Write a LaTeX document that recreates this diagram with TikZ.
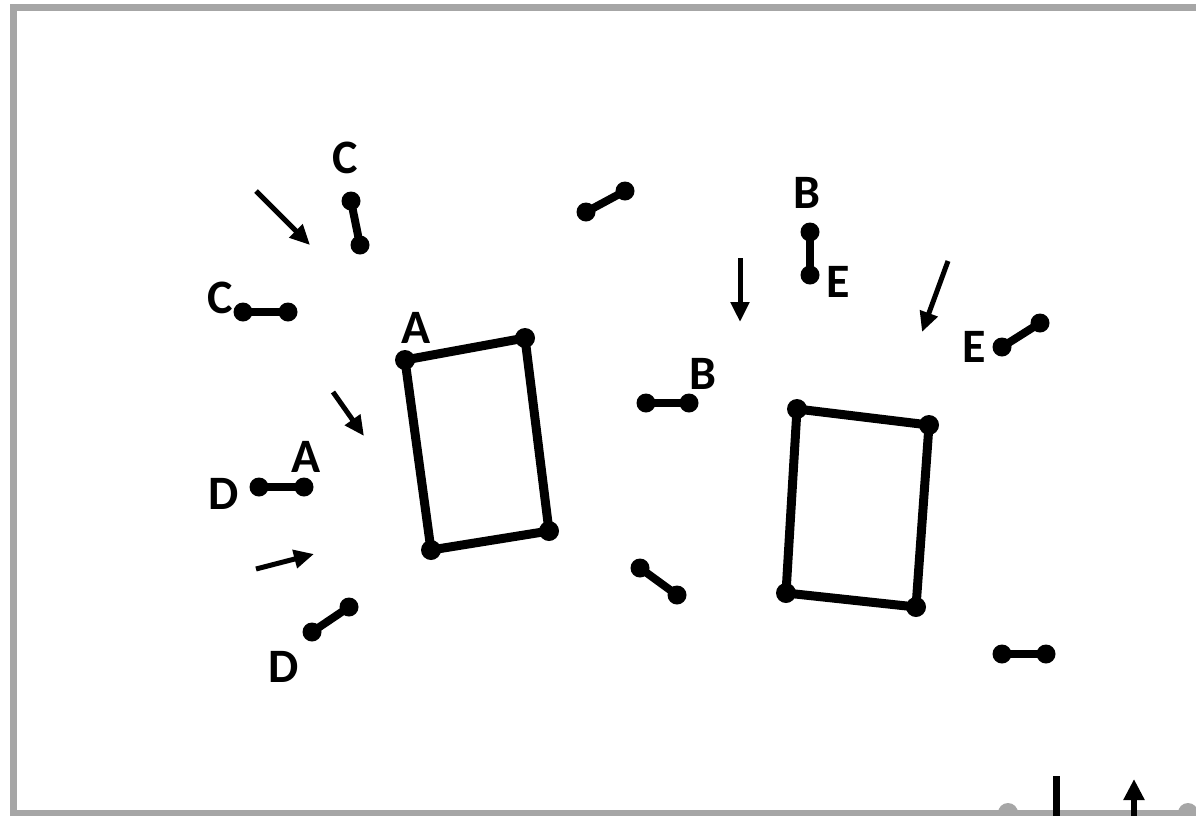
\documentclass[tikz,border=0pt]{standalone}
\usepackage{fontspec}
\setmainfont{Carlito}
\usetikzlibrary{arrows.meta}
\definecolor{framegray}{RGB}{166,166,166}
\tikzset{
  dot/.style={circle,fill=black,inner sep=0pt,minimum size=19pt},
  cdot/.style={circle,fill=black,inner sep=0pt,minimum size=20pt},
  bar/.style={line width=8pt},
  rectside/.style={line width=9pt,line join=round},
  pointer/.style={line width=5pt,-{Triangle[length=20pt,width=18pt]}},
  lbl/.style={font=\bfseries\fontsize{48}{48}\selectfont,inner sep=0pt},
  graydot/.style={circle,fill=framegray,inner sep=0pt,minimum size=20pt}
}
\begin{document}
\begin{tikzpicture}[x=1pt,y=-1pt]
\useasboundingbox (0,0) rectangle (1196,815);
\clip (0,0) rectangle (1196,815);
\fill[white] (0,0) rectangle (1196,815);

% gray dots at bottom
\node[graydot] (g1) at (1008,813) {};
\node[graydot] (g2) at (1188,813) {};
% frame
\draw[framegray,line width=7pt] (13.5,7.5) rectangle (1199.5,813.5);

% rectangle A
\node[cdot] (ra1) at (405,360) {};
\node[cdot] (ra2) at (525,338) {};
\node[cdot] (ra3) at (549,531) {};
\node[cdot] (ra4) at (431,550) {};
\draw[rectside] (ra1.center) -- (ra2.center) -- (ra3.center) -- (ra4.center) -- cycle;

% rectangle B
\node[cdot] (rb1) at (797,409) {};
\node[cdot] (rb2) at (929,425) {};
\node[cdot] (rb3) at (916,607) {};
\node[cdot] (rb4) at (786,593) {};
\draw[rectside] (rb1.center) -- (rb2.center) -- (rb3.center) -- (rb4.center) -- cycle;

% dumbbells
\node[dot] (b1a) at (351,201) {}; \node[dot] (b1b) at (360,245) {};
\draw[bar] (b1a.center) -- (b1b.center);
\node[dot] (b2a) at (243,312) {}; \node[dot] (b2b) at (288,312) {};
\draw[bar] (b2a.center) -- (b2b.center);
\node[dot] (b3a) at (259,487) {}; \node[dot] (b3b) at (304,487) {};
\draw[bar] (b3a.center) -- (b3b.center);
\node[dot] (b4a) at (312,632) {}; \node[dot] (b4b) at (349,607) {};
\draw[bar] (b4a.center) -- (b4b.center);
\node[dot] (b5a) at (586,212) {}; \node[dot] (b5b) at (625,191) {};
\draw[bar] (b5a.center) -- (b5b.center);
\node[dot] (b6a) at (646,403) {}; \node[dot] (b6b) at (689,403) {};
\draw[bar] (b6a.center) -- (b6b.center);
\node[dot] (b7a) at (640,568) {}; \node[dot] (b7b) at (677,595) {};
\draw[bar] (b7a.center) -- (b7b.center);
\node[dot] (b8a) at (810,232) {}; \node[dot] (b8b) at (810,275) {};
\draw[bar] (b8a.center) -- (b8b.center);
\node[dot] (b9a) at (1002,347) {}; \node[dot] (b9b) at (1040,323) {};
\draw[bar] (b9a.center) -- (b9b.center);
\node[dot] (b10a) at (1002,654) {}; \node[dot] (b10b) at (1046,654) {};
\draw[bar] (b10a.center) -- (b10b.center);

% arrows
\coordinate (a1s) at (256,191); \coordinate (a1e) at (310,245);
\draw[pointer] (a1s) -- (a1e);
\coordinate (a2s) at (333,392); \coordinate (a2e) at (364,436);
\draw[pointer] (a2s) -- (a2e);
\coordinate (a3s) at (256,569); \coordinate (a3e) at (314,554);
\draw[pointer] (a3s) -- (a3e);
\coordinate (a4s) at (740,258); \coordinate (a4e) at (740,322);
\draw[pointer] (a4s) -- (a4e);
\coordinate (a5s) at (948,261); \coordinate (a5e) at (922,332);
\draw[pointer] (a5s) -- (a5e);
\coordinate (a6s) at (1134,820); \coordinate (a6e) at (1134,779);
\draw[pointer,line width=6pt,-{Triangle[length=21pt,width=20pt]}] (a6s) -- (a6e);
\coordinate (l1s) at (1056,776); \coordinate (l1e) at (1056,820);
\draw[line width=7pt] (l1s) -- (l1e);

% labels
\node[lbl] (lC1) at (345,158) {C};
\node[lbl] (lC2) at (220,298) {C};
\node[lbl] (lA1) at (416,328) {A};
\node[lbl] (lA2) at (306,457) {A};
\node[lbl] (lD1) at (224,494) {D};
\node[lbl] (lD2) at (284,667) {D};
\node[lbl] (lB1) at (807,193) {B};
\node[lbl] (lE1) at (838,282) {E};
\node[lbl] (lE2) at (974,347) {E};
\node[lbl] (lB2) at (703,374) {B};
\end{tikzpicture}
\end{document}
